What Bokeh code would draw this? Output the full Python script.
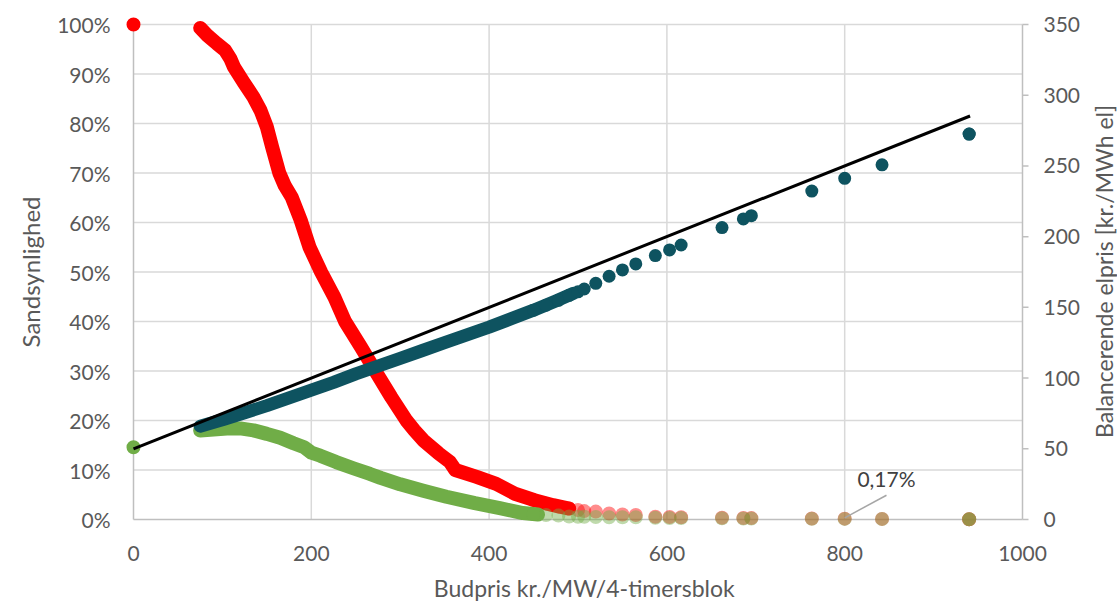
from math import pi
from bokeh.plotting import figure
from bokeh.layouts import row, column
from bokeh.models import Range1d, LinearAxis, NumeralTickFormatter, FixedTicker, Label
from bokeh.embed import file_html
from bokeh.resources import INLINE

# ---------------- data ----------------
bid_zero = [0]
red_zero = [1.00]
green_zero = [0.146]

red_bid = [75, 83, 94, 103, 109, 113, 124, 135, 143, 150, 156, 164, 170, 178, 188, 198, 211, 226, 238,
           256, 272, 290, 307, 316, 326, 343, 356, 362, 386, 408, 429, 451, 472, 490]
red_prob = [0.993, 0.978, 0.961, 0.948, 0.931, 0.914, 0.883, 0.853, 0.826, 0.793, 0.752, 0.700, 0.675,
            0.651, 0.605, 0.550, 0.500, 0.449, 0.400, 0.348, 0.300, 0.247, 0.200, 0.180, 0.160, 0.134,
            0.116, 0.100, 0.086, 0.072, 0.052, 0.039, 0.029, 0.022]

green_bid = [75, 90, 105, 120, 135, 150, 165, 180, 192, 200, 210, 228, 248, 266, 278, 300, 326, 352,
             384, 412, 438, 455]
green_val = [0.180, 0.182, 0.184, 0.184, 0.180, 0.173, 0.165, 0.154, 0.146, 0.135, 0.129, 0.116, 0.103,
             0.092, 0.084, 0.071, 0.058, 0.046, 0.033, 0.023, 0.013, 0.010]

teal_bid = [75, 100, 125, 150, 175, 200, 225, 250, 275, 300, 325, 350, 375, 400, 425, 450, 475, 495]
teal_price = [66, 70.5, 75.5, 80.5, 86, 91.5, 97, 103, 108.5, 114, 119.5, 125, 130.5, 136, 142, 148,
              154.5, 160]

tail_bid = [450, 464, 478, 490, 500, 507, 520, 535, 550, 565, 587, 603, 616, 662, 686, 695, 763, 800,
            842, 940, 940]
red_tail = [0.039, 0.032, 0.026, 0.022, 0.019, 0.017, 0.016, 0.012, 0.010, 0.009, 0.0055, 0.005,
            0.0045, 0.0035, 0.003, 0.0028, 0.002, 0.0017, 0.0012, 0.0006, 0.0006]
green_tail = [0.011, 0.009, 0.008, 0.006, 0.0055, 0.0055, 0.005, 0.0045, 0.0045, 0.0045, 0.0035, 0.003,
              0.003, 0.0025, 0.002, 0.002, 0.0015, 0.0012, 0.001, 0.0005, 0.0005]
teal_tail = [148, 151.5, 155, 158.5, 161, 163, 167, 172, 176.5, 180.7, 186.6, 190.6, 194.1, 206.4,
             212.5, 214.8, 232.2, 241.2, 250.8, 272.5, 272.5]

line_bid = [0, 941]
line_price = [50, 285.3]

x_ticks = [0, 200, 400, 600, 800, 1000]
y_ticks = [0.0, 0.1, 0.2, 0.3, 0.4, 0.5, 0.6, 0.7, 0.8, 0.9, 1.0]
price_ticks = [0, 50, 100, 150, 200, 250, 300, 350]

note_text = "0,17%"
note_bid = 800
note_prob = 0.0017

x_title = "Budpris kr./MW/4-timersblok"
y_title = "Sandsynlighed"
y2_title = "Balancerende elpris [kr./MWh el]"

# ---------------- styling ----------------
FONT = "Lato"
TXT = "#595959"
GRID = "#D9D9D9"
AXIS = "#BFBFBF"
RED = "#FF0000"
GREEN = "#70AD47"
TEAL = "#0E5360"
TAIL_ALPHA = 0.45

W_MAIN, W_RIGHT = 1085, 32
H_MAIN, H_BOTTOM = 572, 30
FW, FH = 889, 495      # plot area in px
PAD = 8                # extra px round the plot area so markers on the edges are not cut
X0, X1 = x_ticks[0], x_ticks[-1]
Y0, Y1 = y_ticks[0], y_ticks[-1]
P0, P1 = price_ticks[0], price_ticks[-1]
ux, uy, up = (X1 - X0) / FW, (Y1 - Y0) / FH, (P1 - P0) / FH

p = figure(frame_width=FW + 2 * PAD, frame_height=FH + 2 * PAD,
           min_border_left=125, min_border_right=W_MAIN - 125 - FW - 2 * PAD,
           min_border_top=16, min_border_bottom=H_MAIN - 16 - FH - 2 * PAD,
           x_range=Range1d(X0 - PAD * ux, X1 + PAD * ux),
           y_range=Range1d(Y0 - PAD * uy, Y1 + PAD * uy),
           output_backend="svg", toolbar_location=None,
           background_fill_color="white", border_fill_color="white")
p.outline_line_color = None
p.extra_y_ranges = {"price": Range1d(P0 - PAD * up, P1 + PAD * up)}
p.xgrid.visible = False
p.ygrid.visible = False


def style_axis(ax, standoff):
    ax.axis_line_color = None
    ax.major_tick_line_color = None
    ax.minor_tick_line_color = None
    ax.major_tick_out = 0
    ax.major_tick_in = 0
    ax.major_label_standoff = standoff
    ax.major_label_text_font = FONT
    ax.major_label_text_font_size = "21px"
    ax.major_label_text_color = TXT
    ax.axis_label_text_font = FONT
    ax.axis_label_text_font_size = "24px"
    ax.axis_label_text_font_style = "normal"
    ax.axis_label_text_color = TXT


xa = p.xaxis[0]
xa.ticker = FixedTicker(ticks=x_ticks)
style_axis(xa, 18)

ya = p.yaxis[0]
ya.ticker = FixedTicker(ticks=y_ticks)
ya.formatter = NumeralTickFormatter(format="0%")
style_axis(ya, 15)
ya.axis_label = y_title
ya.axis_label_standoff = 9

ra = LinearAxis(y_range_name="price", ticker=FixedTicker(ticks=price_ticks))
style_axis(ra, 13)
p.add_layout(ra, "right")

# gridlines, axis lines and the right axis tick marks
p.segment(x0=x_ticks[1:-1], y0=Y0, x1=x_ticks[1:-1], y1=Y1, line_color=GRID, line_width=1.5)
p.segment(x0=X0, y0=y_ticks[1:], x1=X1, y1=y_ticks[1:], line_color=GRID, line_width=1.5)
p.segment(x0=[X0, X1, X0], y0=[Y0, Y0, Y0], x1=[X0, X1, X1], y1=[Y1, Y1, Y0],
          line_color=AXIS, line_width=1.5)
p.segment(x0=X1, y0=price_ticks, x1=X1 + 6 * ux, y1=price_ticks, y_range_name="price",
          line_color=AXIS, line_width=1.5)

# ---------------- series ----------------
# probability (red)
p.line(red_bid, red_prob, line_color=RED, line_width=14, line_cap="round", line_join="round")
p.scatter(bid_zero, red_zero, size=14, fill_color=RED, line_color=None)
p.scatter(tail_bid, red_tail, size=14, fill_color=RED, fill_alpha=TAIL_ALPHA, line_color=None)

# green series
p.line(green_bid, green_val, line_color=GREEN, line_width=14, line_cap="round", line_join="round")
p.scatter(bid_zero, green_zero, size=14, fill_color=GREEN, line_color=None)
p.scatter(tail_bid, green_tail, size=14, fill_color=GREEN, fill_alpha=TAIL_ALPHA, line_color=None)

# balancing price (teal, right axis)
p.line(teal_bid, teal_price, y_range_name="price", line_color=TEAL, line_width=13,
       line_cap="round", line_join="round")
p.scatter(tail_bid, teal_tail, y_range_name="price", size=13, fill_color=TEAL, line_color=None)

# black reference line (right axis)
p.line(line_bid, line_price, y_range_name="price", line_color="black", line_width=3)

# annotation
p.segment(x0=[note_bid], y0=[note_prob + 0.0017], x1=[note_bid + 47], y1=[0.049],
          line_color="#A6A6A6", line_width=1.5)
p.add_layout(Label(x=note_bid + 47, y=0.083, text=note_text, text_align="center",
                   text_baseline="middle", text_font=FONT, text_font_size="21px",
                   text_color="#404040"))


def strip(w, h):
    f = figure(width=w, height=h, x_range=Range1d(0, w), y_range=Range1d(0, h),
               x_axis_type=None, y_axis_type=None, min_border=0,
               output_backend="svg", toolbar_location=None,
               background_fill_color="white", border_fill_color="white")
    f.outline_line_color = None
    return f


# x axis title strip (below the chart)
pb = strip(W_MAIN, H_BOTTOM)
pb.add_layout(Label(x=550, y=H_BOTTOM / 2, text=x_title, text_align="center", text_baseline="middle",
                    text_font=FONT, text_font_size="23px", text_color=TXT))

# right axis title strip (reads bottom to top)
pr = strip(W_RIGHT, H_MAIN + H_BOTTOM)
pr.add_layout(Label(x=18, y=H_MAIN + H_BOTTOM - 271, text=y2_title, angle=pi / 2,
                    text_align="center", text_baseline="middle",
                    text_font=FONT, text_font_size="23px", text_color=TXT))

layout = row(column(p, pb), pr)
open("out.html", "w").write(file_html(layout, INLINE))
